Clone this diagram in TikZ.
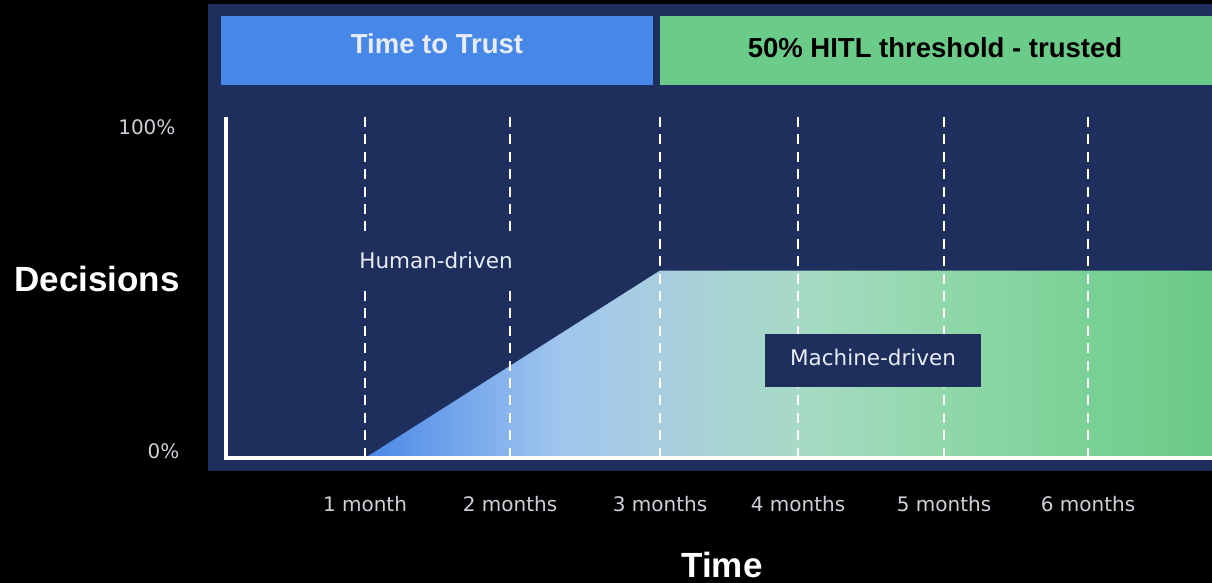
\documentclass[tikz,border=0pt]{standalone}
\usepackage{fontspec}
\setmainfont{DejaVu Sans}
\newfontfamily\headfont{Liberation Sans}
\usetikzlibrary{positioning}

\definecolor{panelnavy}{RGB}{30,47,94}
\definecolor{trustblue}{RGB}{71,135,232}
\definecolor{trustgreen}{RGB}{107,203,136}
\definecolor{ticktext}{RGB}{205,208,214}
\definecolor{labeltext}{RGB}{232,236,244}
\definecolor{gradA}{RGB}{74,136,232}
\definecolor{gradB}{RGB}{160,198,238}
\definecolor{gradC}{RGB}{168,206,222}
\definecolor{gradD}{RGB}{168,218,198}
\definecolor{gradE}{RGB}{145,216,170}
\definecolor{gradF}{RGB}{120,208,148}
\definecolor{gradG}{RGB}{107,202,134}

\pgfdeclarehorizontalshading{handover}{100bp}{color(0bp)=(gradA); color(25bp)=(gradA);
  color(36.5bp)=(gradB); color(42.5bp)=(gradC); color(50.5bp)=(gradD);
  color(59bp)=(gradE); color(68.5bp)=(gradF); color(75bp)=(gradG); color(100bp)=(gradG)}

\tikzset{
  headbox/.style={minimum height=69pt, inner sep=0pt},
  headtext/.style={font=\headfont\bfseries\fontsize{27.5}{33}\selectfont},
  ticklabel/.style={anchor=base, text=ticktext, font=\fontsize{20}{24}\selectfont},
  axistitle/.style={anchor=base, text=white, font=\headfont\bfseries\fontsize{35}{40}\selectfont},
  gridline/.style={draw=white, line width=2.7pt, dash pattern=on 10pt off 7.4pt},
  axisline/.style={draw=white, line width=3.8pt},
  arealabel/.style={fill=panelnavy, text=labeltext, font=\fontsize{21.5}{25}\selectfont,
    text height=15.5pt}
}

\begin{document}
\begin{tikzpicture}[x=1pt,y=-1pt]
\useasboundingbox[fill=black] (0,0) rectangle (1212,583);
\fill[panelnavy] (208,4) rectangle (1212,471);

% header boxes
\node[headbox, fill=trustblue, minimum width=432pt] (trustbox) at (437,50.5) {};
\node[headtext, text=labeltext] (trusttext) at (437,44) {Time to Trust};
\node[headbox, fill=trustgreen, minimum width=552pt] (trustedbox) at (936,50.5) {};
\node[headtext, text=black] (trustedtext) at (935,48) {50\% HITL threshold - trusted};

% machine share
\shade[shading=handover] (365,458) -- (660,270.5) -- (1212,270.5) -- (1212,458) -- cycle;

% month lines
\foreach \x/\name/\txt in {365/m1/1 month, 510/m2/2 months, 660/m3/3 months,
                           798/m4/4 months, 944/m5/5 months, 1088/m6/6 months} {
  \coordinate (\name top) at (\x,117);
  \coordinate (\name bot) at (\x,458);
  \draw[gridline] (\name top) -- (\name bot);
  \node[ticklabel] (\name label) at (\x,511) {\txt};
}

% axes
\coordinate (ytop) at (226,117);
\coordinate (origin) at (226,458);
\coordinate (xend) at (1212,458);
\draw[axisline] (ytop) -- (origin) -- (xend);

\node[ticklabel, anchor=base east] (full) at (179,135) {100\%};
\node[ticklabel, anchor=base east] (none) at (183,458) {0\%};
\node[axistitle] (decisions) at (97,291.5) {Decisions};
\node[axistitle] (time) at (722,577) {Time};

\node[arealabel, minimum width=172pt, minimum height=58pt, text depth=0pt] (human) at (436,261) {Human-driven};
\node[arealabel, minimum width=216pt, minimum height=53pt, text depth=6.5pt] (machine) at (873,360.5) {Machine-driven};
\end{tikzpicture}
\end{document}
